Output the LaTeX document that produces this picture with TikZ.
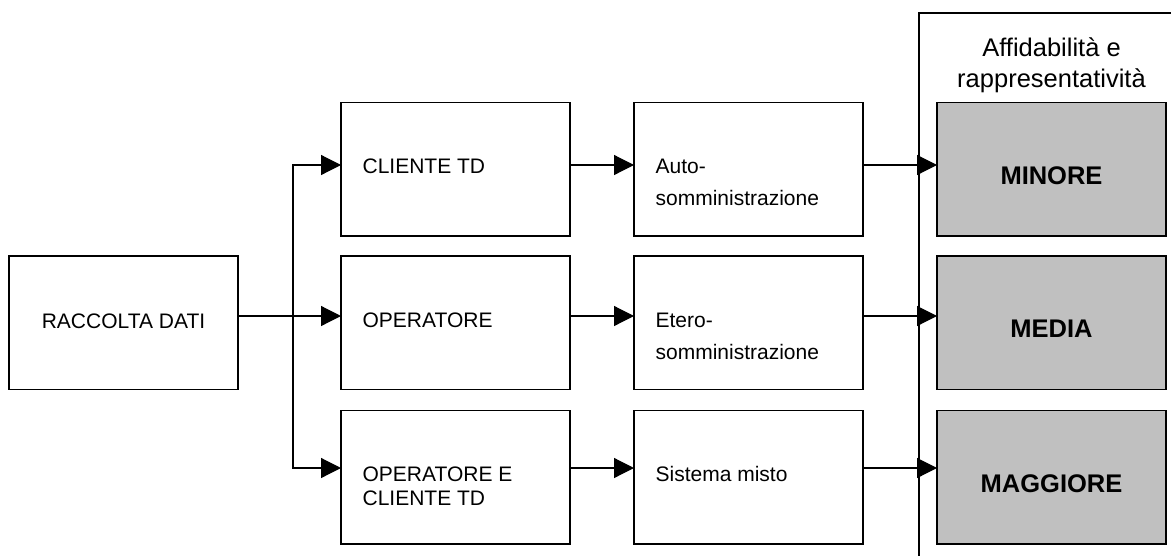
\documentclass[tikz,border=0pt]{standalone}
\usepackage{fontspec}
\setmainfont{Liberation Sans}
\usetikzlibrary{arrows.meta,positioning,calc}
\definecolor{gradegray}{HTML}{C0C0C0}
\tikzset{
	flow/.style={x=1pt, y=-1pt, line width=1.2pt},
	box/.style={draw, line width=1.2pt, minimum width=229pt, minimum height=133.5pt,
		outer sep=0pt, inner sep=0pt},
	grade/.style={box, fill=gradegray},
	txt/.style={inner sep=0pt, align=left, font=\fontsize{21}{32}\selectfont},
	txttight/.style={txt, font=\fontsize{21}{24}\selectfont},
	head/.style={inner sep=0pt, align=center, font=\fontsize{25.5}{31}\selectfont},
	big/.style={inner sep=0pt, font=\fontsize{25.5}{31}\selectfont\bfseries},
	ar/.style={-{Triangle[length=20pt,width=20pt]}}
}

\begin{document}
\begin{tikzpicture}[flow]
	\useasboundingbox (0,0) rectangle (1171,555);
	\clip (0,0) rectangle (1171,555);
	% boxes
	\node[box, anchor=north west] (raccolta) at (9,256) {};
	\node[box, right=103pt of raccolta] (operatore) {};
	\node[box, above=20pt of operatore] (cliente) {};
	\node[box, below=21pt of operatore] (entrambi) {};
	\node[box, right=64pt of cliente] (auto) {};
	\node[box, right=64pt of operatore] (etero) {};
	\node[box, right=64pt of entrambi] (misto) {};
	\draw (919,13) rectangle (1190,570);
	\node[grade, right=74pt of auto] (minore) {};
	\node[grade, right=74pt of etero] (media) {};
	\node[grade, right=74pt of misto] (maggiore) {};
	% texts (base = last line)
	\node[txt, anchor=base] (raccolta-t) at ($(raccolta.north)+(0,72)$) {RACCOLTA DATI};
	\node[txt, anchor=base west] (cliente-t) at ($(cliente.north west)+(21,71)$) {CLIENTE TD};
	\node[txt, anchor=base west] (operatore-t) at ($(operatore.north west)+(21,71)$) {OPERATORE};
	\node[txttight, anchor=base west] (entrambi-t) at ($(entrambi.north west)+(21,95)$) {OPERATORE E\\CLIENTE TD};
	\node[txt, anchor=base west] (auto-t) at ($(auto.north west)+(21,103)$) {Auto-\\somministrazione};
	\node[txt, anchor=base west] (etero-t) at ($(etero.north west)+(21,103)$) {Etero-\\somministrazione};
	\node[txt, anchor=base west] (misto-t) at ($(misto.north west)+(21,71)$) {Sistema misto};
	\node[head, anchor=base] (titolo) at ($(minore.north)+(0,-15)$) {Affidabilità e\\rappresentatività};
	\node[big, anchor=base] (minore-t) at ($(minore.center)+(0,15)$) {MINORE};
	\node[big, anchor=base] (media-t) at ($(media.center)+(0,15)$) {MEDIA};
	\node[big, anchor=base] (maggiore-t) at ($(maggiore.center)+(0,15)$) {MAGGIORE};
	% arrows
	\coordinate (r1) at (0,165);
	\coordinate (r2) at (0,316);
	\coordinate (r3) at (0,468);
	\coordinate (split) at ($(raccolta.east |- r2)+(55,0)$);
	\draw[ar] (raccolta.east |- r2) -- (operatore.west |- r2);
	\draw[ar] (split) |- (cliente.west |- r1);
	\draw[ar] (split) |- (entrambi.west |- r3);
	\foreach \a/\b/\r in {cliente/auto/r1, operatore/etero/r2, entrambi/misto/r3,
		auto/minore/r1, etero/media/r2, misto/maggiore/r3}
		\draw[ar] (\a.east |- \r) -- (\b.west |- \r);
\end{tikzpicture}
\end{document}
